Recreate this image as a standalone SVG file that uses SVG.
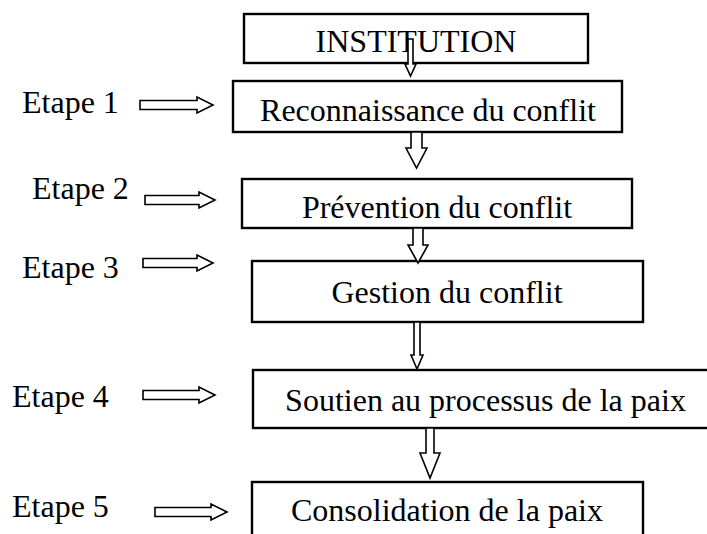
<svg xmlns="http://www.w3.org/2000/svg" width="707" height="534" viewBox="0 0 707 534">
<style>
.box{fill:#fff;stroke:#000;stroke-width:2.4}
.t{font-family:"Liberation Serif","Times New Roman",serif;font-size:32px;fill:#000}
.m{text-anchor:middle}
.arr{fill:#fff;stroke:#000;stroke-width:1.6;stroke-linejoin:miter}
</style>
<rect width="707" height="534" fill="#fff"/>
<g id="n0"><rect class="box" x="244" y="14" width="344" height="49"/><text class="t m" x="416" y="52">INSTITUTION</text></g>
<g id="n1"><rect class="box" x="233" y="81" width="389" height="51"/><text class="t m" x="428" y="121">Reconnaissance du conflit</text></g>
<g id="n2"><rect class="box" x="242" y="179" width="390" height="49"/><text class="t m" x="437" y="218">Prévention du conflit</text></g>
<g id="n3"><rect class="box" x="252" y="261" width="391" height="61"/><text class="t m" x="447" y="303">Gestion du conflit</text></g>
<g id="n4"><rect class="box" x="253" y="370" width="470" height="58"/><text class="t m" x="485.5" y="411">Soutien au processus de la paix</text></g>
<g id="n5"><rect class="box" x="252" y="482" width="391" height="60"/><text class="t m" x="447" y="521">Consolidation de la paix</text></g>
<g id="l1"><text class="t" x="22" y="113">Etape 1</text></g>
<g id="l2"><text class="t" x="32" y="199">Etape 2</text></g>
<g id="l3"><text class="t" x="22" y="278">Etape 3</text></g>
<g id="l4"><text class="t" x="12" y="407">Etape 4</text></g>
<g id="l5"><text class="t" x="12" y="517">Etape 5</text></g>
<g id="connectors">
<path class="arr" d="M140,100.5 H197 V97 L213,105 L197,113 V109.5 H140 Z"/>
<path class="arr" d="M145,195.5 H199 V192 L215,200 L199,208 V204.5 H145 Z"/>
<path class="arr" d="M143,258.5 H197 V255 L213,263 L197,271 V267.5 H143 Z"/>
<path class="arr" d="M143,390.5 H199 V387 L215,395 L199,403 V399.5 H143 Z"/>
<path class="arr" d="M155,507.5 H211 V504 L227,512 L211,520 V516.5 H155 Z"/>
<path class="arr" d="M408,39 H413 V64 H416 L410.5,76 L405,64 H408 Z"/>
<path class="arr" d="M411,132 H422 V148 H427 L416.5,168 L406,148 H411 Z"/>
<path class="arr" d="M413,228 H423 V245 H428 L418,263 L408,245 H413 Z"/>
<path class="arr" d="M414,322 H420 V355 H423 L417,369 L411,355 H414 Z"/>
<path class="arr" d="M426,428 H434 V453 H440 L430,478 L420,453 H426 Z"/>
</g>
</svg>
